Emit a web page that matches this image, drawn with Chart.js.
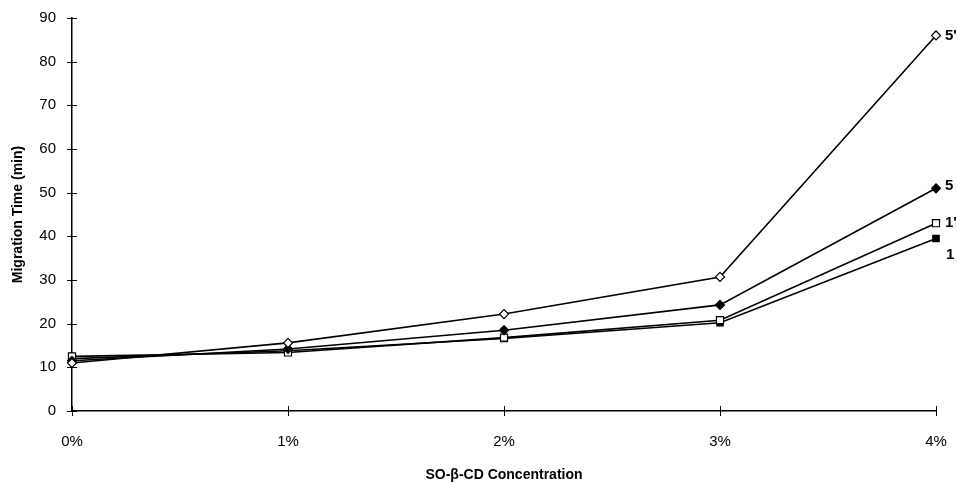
<!DOCTYPE html>
<html>
<head>
<meta charset="utf-8">
<script src="https://cdn.jsdelivr.net/npm/chart.js@4/dist/chart.umd.min.js"></script>
<style>
html,body{margin:0;padding:0;background:#fff;}
#wrap{width:957px;height:484px;position:relative;}
</style>
</head>
<body>
<div id="wrap"><canvas id="c" width="957" height="484"></canvas></div>
<script>
const categories = ['0%', '1%', '2%', '3%', '4%'];
const yTicks = [0, 10, 20, 30, 40, 50, 60, 70, 80, 90];
const series5p = [11.0, 15.6, 22.2, 30.7, 86.0];
const series5  = [11.5, 14.2, 18.5, 24.3, 51.0];
const series1p = [12.5, 13.4, 16.8, 20.8, 43.0];
const series1  = [12.0, 13.8, 16.6, 20.2, 39.5];
const seriesNames = ["5'", '5', "1'", '1'];

const FONT = '"Liberation Sans", Arial, sans-serif';

const crossTicks = {
  id: 'crossTicks',
  afterDraw(chart) {
    const ctx = chart.ctx;
    const x = chart.scales.x, y = chart.scales.y;
    ctx.save();
    ctx.strokeStyle = '#000';
    ctx.lineWidth = 1;
    ctx.beginPath();
    y.ticks.forEach((t, i) => {
      const py = Math.round(y.getPixelForTick(i)) + 0.5;
      ctx.moveTo(x.left - 5, py); ctx.lineTo(x.left + 5, py);
    });
    x.ticks.forEach((t, i) => {
      const px = Math.round(x.getPixelForTick(i)) + 0.5;
      ctx.moveTo(px, y.bottom - 5); ctx.lineTo(px, y.bottom + 5);
    });
    ctx.stroke();
    ctx.restore();
  }
};

const endLabels = {
  id: 'endLabels',
  afterDatasetsDraw(chart) {
    const ctx = chart.ctx;
    const offs = [[9, 0], [9, -2], [9, 0], [10, 16]];
    ctx.save();
    ctx.fillStyle = '#000';
    ctx.font = 'bold 15px ' + FONT;
    ctx.textAlign = 'left';
    ctx.textBaseline = 'middle';
    chart.data.datasets.forEach((ds, i) => {
      const meta = chart.getDatasetMeta(i);
      const pt = meta.data[meta.data.length - 1];
      ctx.fillText(seriesNames[i], pt.x + offs[i][0], pt.y + offs[i][1]);
    });
    ctx.restore();
  }
};

const common = { borderColor: '#000', borderWidth: 1.6, tension: 0, pointBorderColor: '#000', pointBorderWidth: 1.2 };

new Chart(document.getElementById('c'), {
  type: 'line',
  data: {
    labels: categories,
    datasets: [
      Object.assign({ label: seriesNames[0], data: series5p, pointStyle: 'rectRot', pointRadius: 4.5, pointBackgroundColor: '#fff' }, common),
      Object.assign({ label: seriesNames[1], data: series5, pointStyle: 'rectRot', pointRadius: 4.5, pointBackgroundColor: '#000' }, common),
      Object.assign({ label: seriesNames[2], data: series1p, pointStyle: 'rect', pointRadius: 5, pointBackgroundColor: '#fff' }, common),
      Object.assign({ label: seriesNames[3], data: series1, pointStyle: 'rect', pointRadius: 4.5, pointBackgroundColor: '#000' }, common)
    ]
  },
  options: {
    responsive: false,
    animation: false,
    layout: { padding: { left: 10, right: 21, top: 18, bottom: 0 } },
    plugins: { legend: { display: false }, tooltip: { enabled: false } },
    scales: {
      x: {
        offset: false,
        grid: { display: true, drawOnChartArea: false, drawTicks: false },
        border: { display: true, color: '#000', width: 1.5 },
        ticks: { color: '#000', padding: 22, maxRotation: 0, font: { family: FONT, size: 15 } },
        title: { display: true, text: 'SO-β-CD Concentration', color: '#000', font: { family: FONT, size: 14, weight: 'bold' }, padding: { top: 5, bottom: 0 } },
        afterFit(s) { s.height = 73; s.paddingLeft = 0; s.paddingRight = 0; }
      },
      y: {
        min: 0, max: 90,
        afterBuildTicks(s) { s.ticks = yTicks.map(v => ({ value: v })); },
        grid: { display: true, drawOnChartArea: false, drawTicks: false },
        border: { display: true, color: '#000', width: 1.5 },
        ticks: { color: '#000', padding: 16, font: { family: FONT, size: 15 } },
        title: { display: true, text: 'Migration Time (min)', color: '#000', font: { family: FONT, size: 14, weight: 'bold' }, padding: { top: 0, bottom: 6 } },
        afterFit(s) { s.width = 62; s.paddingTop = 0; s.paddingBottom = 0; }
      }
    }
  },
  plugins: [crossTicks, endLabels]
});
</script>
</body>
</html>
